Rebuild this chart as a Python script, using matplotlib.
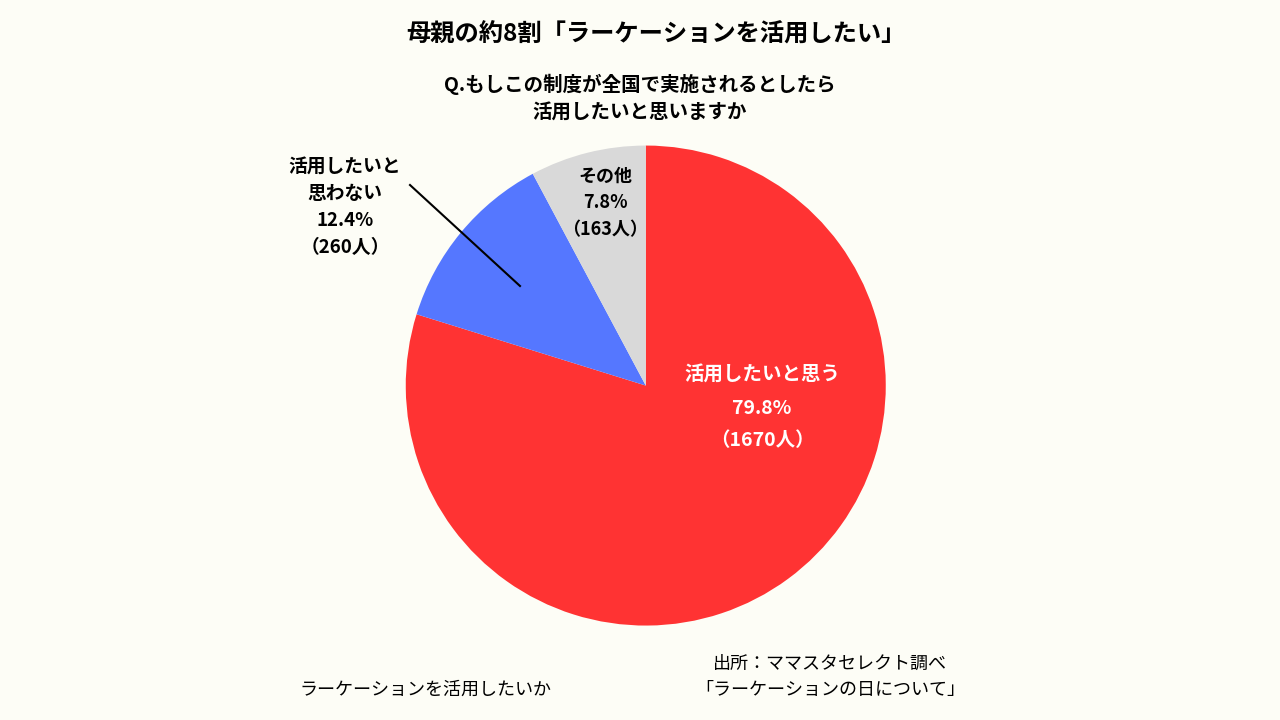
import matplotlib.pyplot as plt

plt.rcParams['font.family'] = 'Noto Sans CJK JP'

labels = ['活用したいと思う', '活用したいと思わない', 'その他']
percents = [79.8, 12.4, 7.8]
counts = [1670, 260, 163]
colors = ['#FF3333', '#5577FF', '#D9D9D9']
bg = '#FDFDF6'

fig = plt.figure(figsize=(12.8, 7.2), dpi=100, facecolor=bg)
ax = fig.add_axes([0.317, 0.131, 0.375, 0.667])
ax.pie(percents, colors=colors, startangle=90, counterclock=False)
ax.set_aspect('equal')
ax.set_xlim(-1, 1)
ax.set_ylim(-1, 1)

def fx(px):
    return px / 1280

def fy(py):
    return 1 - py / 720

fig.text(fx(656), fy(35), '母親の約8割「ラーケーションを活用したい」', ha='center', va='center',
         fontsize=17.5, fontweight='bold')
fig.text(fx(640), fy(98), 'Q.もしこの制度が全国で実施されるとしたら\n活用したいと思いますか', ha='center',
         va='center', fontsize=14, fontweight='bold', linespacing=1.6)

fig.text(fx(762), fy(408), f'{labels[0]}\n{percents[0]}%\n（{counts[0]}人）', ha='center', va='center',
         fontsize=14, fontweight='bold', color='white', linespacing=1.9)
fig.text(fx(605), fy(203), f'{labels[2]}\n{percents[2]}%\n（{counts[2]}人）', ha='center', va='center',
         fontsize=13, fontweight='bold', linespacing=1.5)
fig.text(fx(345), fy(207), '活用したいと\n思わない\n' + f'{percents[1]}%\n（{counts[1]}人）', ha='center',
         va='center', fontsize=13.5, fontweight='bold', linespacing=1.55)
fig.add_artist(plt.Line2D([fx(410), fx(520)], [fy(185), fy(286)], color='black', lw=1.5))

fig.text(fx(425), fy(690), 'ラーケーションを活用したいか', ha='center', va='center', fontsize=13)
fig.text(fx(830), fy(677), '出所：ママスタセレクト調べ\n「ラーケーションの日について」', ha='center',
         va='center', fontsize=13, linespacing=1.6)

fig.savefig('out.png', dpi=100, facecolor=bg)
